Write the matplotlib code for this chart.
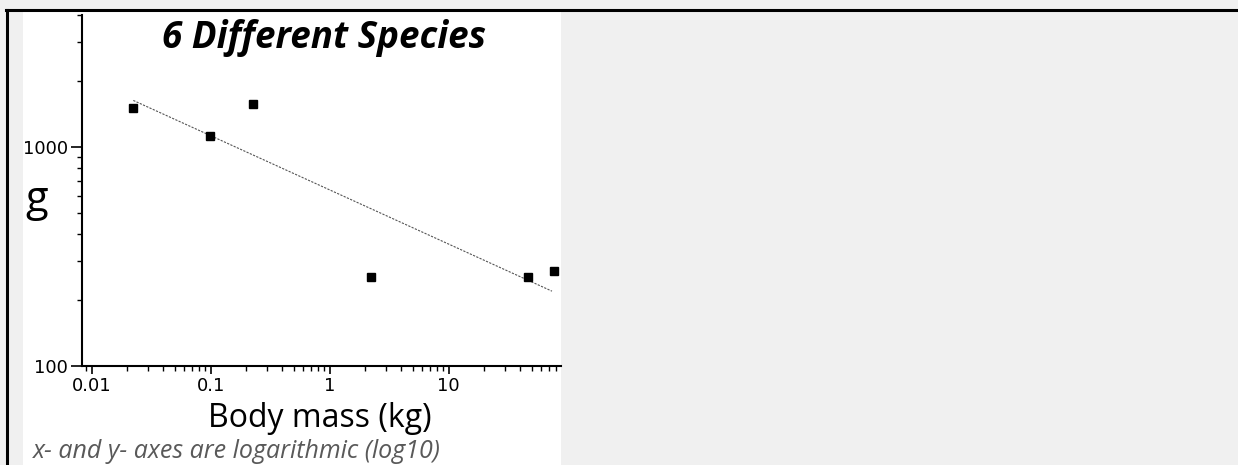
import numpy as np
import matplotlib
matplotlib.use("Agg")
import matplotlib.pyplot as plt
from matplotlib.patches import Rectangle
from matplotlib.lines import Line2D
from matplotlib.ticker import LogLocator, NullFormatter, FixedLocator, FixedFormatter

# body mass (kg) and g
mass = [0.0224, 0.0993, 0.226, 2.23, 46.5, 76.2]
g_val = [1510, 1126, 1574, 256, 256, 270]

x_ticks = [0.01, 0.1, 1, 10]
x_labels = ["0.01", "0.1", "1", "10"]
y_ticks = [100, 1000]
y_labels = ["100", "1000"]

title = "6 Different Species"
xlabel = "Body mass (kg)"
ylabel = "g"
note = "x- and y- axes are logarithmic (log10)"

W, H = 1238, 465
fig = plt.figure(figsize=(W / 100, H / 100), dpi=100)
fig.patch.set_facecolor("#f0f0f0")

# white panel behind the chart
fig.add_artist(Rectangle((23 / W, 0), (561 - 23) / W, 1 - 12 / H,
                         transform=fig.transFigure, facecolor="white",
                         edgecolor="none", zorder=0))
# black frame lines (top and left)
fig.add_artist(Line2D([6 / W, 1], [1 - 10 / H, 1 - 10 / H], transform=fig.transFigure,
                      color="black", lw=2.2))
fig.add_artist(Line2D([7 / W, 7 / W], [0, 1 - 10 / H], transform=fig.transFigure,
                      color="black", lw=2.2))

ax = fig.add_axes([82 / W, 1 - 366 / H, (561 - 82) / W, (366 - 15) / H])
ax.set_facecolor("none")
ax.set_xscale("log")
ax.set_yscale("log")
ax.set_xlim(0.0083, 88)
ax.set_ylim(100, 4000)

ax.plot(mass, g_val, "s", color="black", markersize=6, zorder=3, clip_on=False)

# least squares fit in log space for the trend line
coef = np.polyfit(np.log10(mass), np.log10(g_val), 1)
fx = np.array([min(mass), max(mass) * 0.97])
ax.plot(fx, 10 ** np.polyval(coef, np.log10(fx)), color="#555555", lw=0.8,
        linestyle=(0, (2, 1.2)), zorder=2)

for s in ["top", "right"]:
    ax.spines[s].set_visible(False)
for s in ["left", "bottom"]:
    ax.spines[s].set_linewidth(1.5)

ax.xaxis.set_major_locator(FixedLocator(x_ticks))
ax.xaxis.set_major_formatter(FixedFormatter(x_labels))
ax.xaxis.set_minor_locator(LogLocator(base=10, subs=np.arange(2, 10)))
ax.xaxis.set_minor_formatter(NullFormatter())
ax.yaxis.set_major_locator(FixedLocator(y_ticks))
ax.yaxis.set_major_formatter(FixedFormatter(y_labels))
ax.yaxis.set_minor_locator(LogLocator(base=10, subs=np.arange(2, 10)))
ax.yaxis.set_minor_formatter(NullFormatter())

ax.tick_params(axis="both", which="major", direction="out", width=1.2,
               labelsize=13, pad=2)
ax.tick_params(axis="x", which="major", length=6)
ax.tick_params(axis="y", which="major", length=8)
ax.tick_params(axis="both", which="minor", direction="out", length=3.5, width=1)
for lab in ax.get_xticklabels() + ax.get_yticklabels():
    lab.set_fontfamily("DejaVu Sans")

fig.text(324 / W, 1 - 38 / H, title, ha="center", va="center", fontsize=26.5,
         fontweight="bold", fontstyle="italic", family="Open Sans")
fig.text(37 / W, 1 - 200 / H, ylabel, ha="center", va="center", fontsize=30,
         family="Open Sans")
fig.text(320 / W, 1 - 418 / H, xlabel, ha="center", va="center", fontsize=23,
         family="Open Sans")
fig.text(33 / W, 1 - 458 / H, note, ha="left", va="baseline", fontsize=18,
         fontstyle="italic", color="#595959", family="Open Sans")

fig.savefig("out.png", dpi=100, facecolor=fig.get_facecolor())
